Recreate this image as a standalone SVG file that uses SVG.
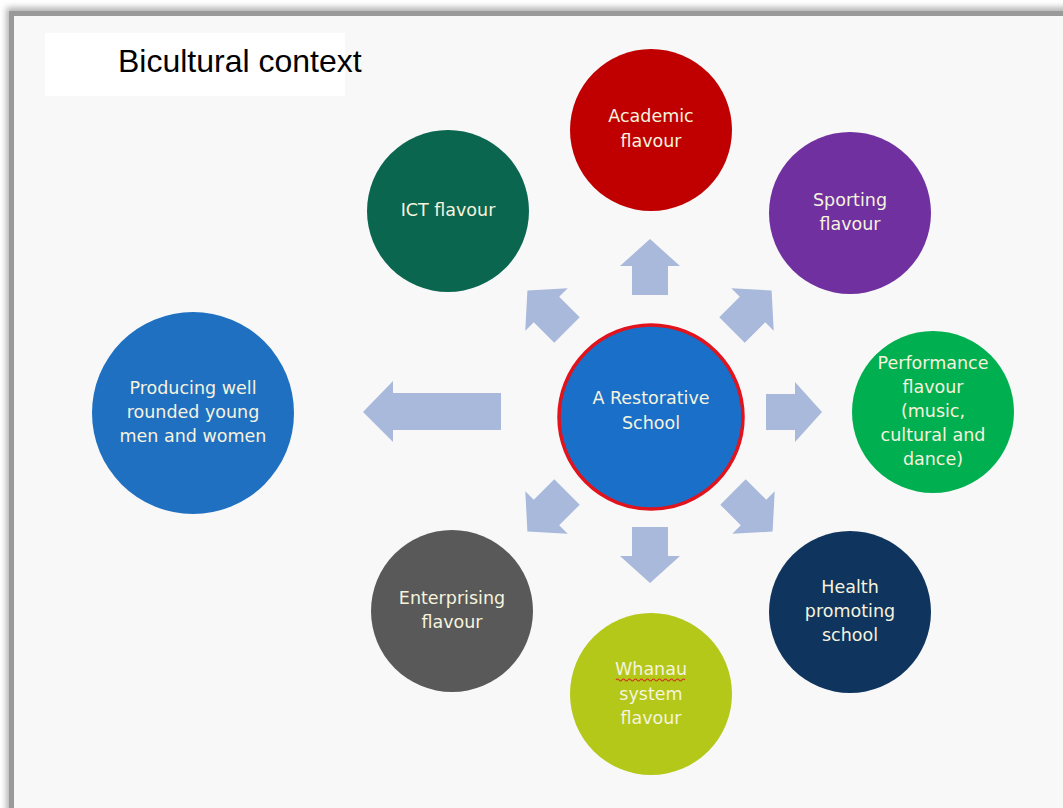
<svg xmlns="http://www.w3.org/2000/svg" xmlns:xlink="http://www.w3.org/1999/xlink" width="1063" height="808" viewBox="0 0 1063 808">
  <style>
    .lbl { font-family: "DejaVu Sans", "Open Sans", sans-serif; font-size: 17.5px; fill: #f6f3de; text-anchor: middle; }
    .title { font-family: "Liberation Sans", Arial, sans-serif; font-size: 32px; fill: #000000; }
    .arr { fill: #a9b9dc; }
  </style>
  <defs>
    <filter id="shadow" x="-5%" y="-5%" width="110%" height="110%">
      <feGaussianBlur stdDeviation="3"/>
    </filter>
    <!-- block arrow, tail at origin, pointing along +x -->
    <path id="arrow" d="M0,-18 L29,-18 L29,-30 L56,0 L29,30 L29,18 L0,18 Z"/>
  </defs>

  <!-- page frame -->
  <rect x="0" y="0" width="1063" height="808" fill="#ffffff"/>
  <rect x="11" y="12" width="1100" height="850" fill="none" stroke="#b0b0b0" stroke-width="9" filter="url(#shadow)"/>
  <rect x="14" y="16" width="1100" height="850" fill="#f8f8f8"/>
  <rect x="11.5" y="13.5" width="1100" height="850" fill="none" stroke="#9a9a9a" stroke-width="5"/>

  <!-- title -->
  <g id="title">
    <rect x="45" y="33" width="300" height="63" fill="#ffffff"/>
    <text class="title" x="118" y="72">Bicultural context</text>
  </g>

  <!-- connectors -->
  <g id="connectors" class="arr">
    <use xlink:href="#arrow" transform="translate(650,295) rotate(-90)"/>
    <use xlink:href="#arrow" transform="translate(650,527) rotate(90)"/>
    <use xlink:href="#arrow" transform="translate(766,412)"/>
    <use xlink:href="#arrow" transform="translate(732,330) rotate(-45)"/>
    <use xlink:href="#arrow" transform="translate(567,330) rotate(-135)"/>
    <use xlink:href="#arrow" transform="translate(567,492) rotate(135)"/>
    <use xlink:href="#arrow" transform="translate(733,492) rotate(45)"/>
    <path d="M501,393 L393,393 L393,381 L363,412 L393,442 L393,430 L501,430 Z"/>
  </g>

  <!-- nodes -->
  <g id="center">
    <circle cx="651" cy="417" r="92" fill="#1a6fc9" stroke="#e1131c" stroke-width="3.5"/>
    <text class="lbl" x="651" y="404">A Restorative</text>
    <text class="lbl" x="651" y="429">School</text>
  </g>

  <g id="academic">
    <circle cx="651" cy="130" r="81" fill="#c00000"/>
    <text class="lbl" x="651" y="122">Academic</text>
    <text class="lbl" x="651" y="147">flavour</text>
  </g>

  <g id="sporting">
    <circle cx="850" cy="213" r="81" fill="#7030a0"/>
    <text class="lbl" x="850" y="206">Sporting</text>
    <text class="lbl" x="850" y="230">flavour</text>
  </g>

  <g id="ict">
    <circle cx="448" cy="211" r="81" fill="#0b6650"/>
    <text class="lbl" x="448" y="216">ICT flavour</text>
  </g>

  <g id="performance">
    <circle cx="933" cy="412" r="81" fill="#00b050"/>
    <text class="lbl" x="933" y="369">Performance</text>
    <text class="lbl" x="933" y="393">flavour</text>
    <text class="lbl" x="933" y="417">(music,</text>
    <text class="lbl" x="933" y="441">cultural and</text>
    <text class="lbl" x="933" y="465">dance)</text>
  </g>

  <g id="health">
    <circle cx="850" cy="612" r="81" fill="#0f355f"/>
    <text class="lbl" x="850" y="593">Health</text>
    <text class="lbl" x="850" y="617">promoting</text>
    <text class="lbl" x="850" y="641">school</text>
  </g>

  <g id="whanau">
    <circle cx="651" cy="694" r="81" fill="#b4c819"/>
    <text class="lbl" x="651" y="675">Whanau</text>
    <!-- wavy underline under the first word -->
    <path d="M616,680 q1.5,-2 3,0 t3,0 t3,0 t3,0 t3,0 t3,0 t3,0 t3,0 t3,0 t3,0 t3,0 t3,0 t3,0 t3,0 t3,0 t3,0 t3,0 t3,0 t3,0 t3,0 t3,0 t3,0 t3,0" fill="none" stroke="#d63020" stroke-width="1.2"/>
    <text class="lbl" x="651" y="700">system</text>
    <text class="lbl" x="651" y="724">flavour</text>
  </g>

  <g id="enterprising">
    <circle cx="452" cy="611" r="81" fill="#595959"/>
    <text class="lbl" x="452" y="604">Enterprising</text>
    <text class="lbl" x="452" y="628">flavour</text>
  </g>

  <g id="producing">
    <circle cx="193" cy="413" r="101" fill="#1f70c1"/>
    <text class="lbl" x="193" y="394">Producing well</text>
    <text class="lbl" x="193" y="418">rounded young</text>
    <text class="lbl" x="193" y="442">men and women</text>
  </g>
</svg>
